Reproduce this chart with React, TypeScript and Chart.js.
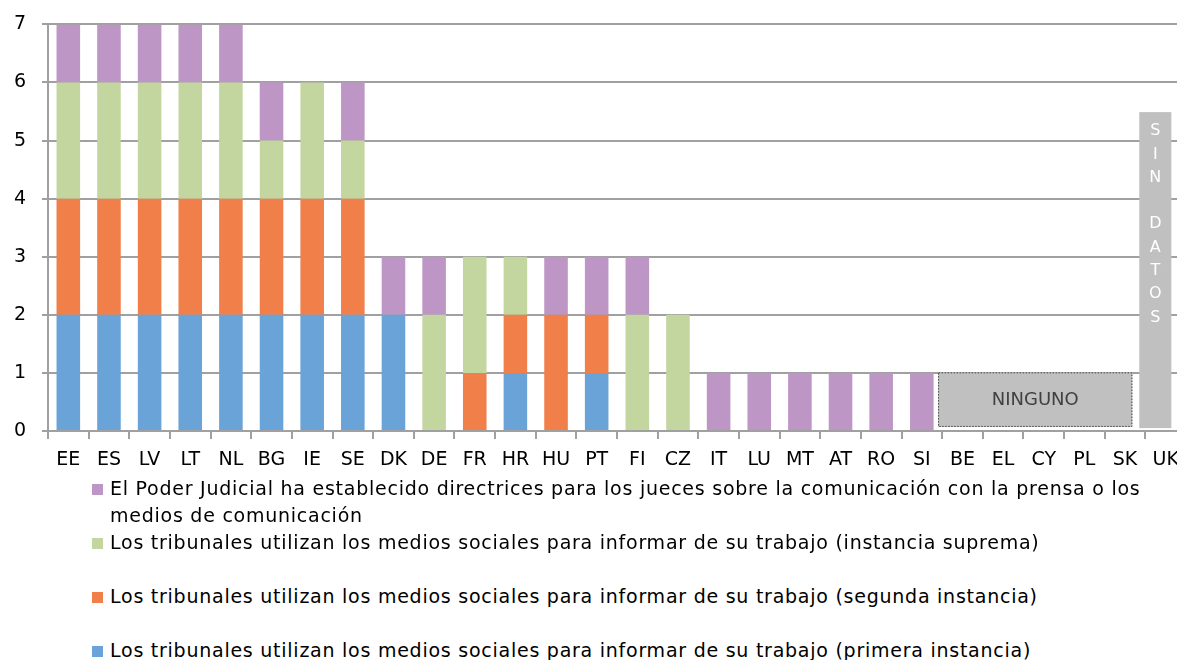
import React, { useEffect, useRef } from "react";
import { Chart, registerables } from "chart.js";

Chart.register(...registerables);

const categories = ["EE","ES","LV","LT","NL","BG","IE","SE","DK","DE","FR","HR","HU","PT","FI","CZ","IT","LU","MT","AT","RO","SI","BE","EL","CY","PL","SK","UK"];
const primeraInstancia = [2,2,2,2,2,2,2,2,2,0,0,1,0,1,0,0,0,0,0,0,0,0,0,0,0,0,0,0];
const segundaInstancia = [2,2,2,2,2,2,2,2,0,0,1,1,2,1,0,0,0,0,0,0,0,0,0,0,0,0,0,0];
const instanciaSuprema = [2,2,2,2,2,1,2,1,0,2,2,1,0,0,2,2,0,0,0,0,0,0,0,0,0,0,0,0];
const directrices = [1,1,1,1,1,1,0,1,1,1,0,0,1,1,1,0,1,1,1,1,1,1,0,0,0,0,0,0];
const yTicks = [0,1,2,3,4,5,6,7];

const labelsLegend = [
  "El Poder Judicial ha establecido directrices para los jueces sobre la comunicación con la prensa o los medios de comunicación",
  "Los tribunales utilizan los medios sociales para informar de su trabajo (instancia suprema)",
  "Los tribunales utilizan los medios sociales para informar de su trabajo (segunda instancia)",
  "Los tribunales utilizan los medios sociales para informar de su trabajo (primera instancia)",
];
const colorsLegend = ["#bd96c6", "#c3d6a0", "#f07f4a", "#6aa3d8"];

const FONT = "'DejaVu Sans', sans-serif";
const GRID = "#a0a0a0";

const boxesPlugin = {
  id: "boxes",
  afterDatasetsDraw(chart: any) {
    const { ctx } = chart;
    const x = chart.scales.x;
    const y = chart.scales.y;
    const step = x.getPixelForValue(1) - x.getPixelForValue(0);
    const px = (v: number) => x.getPixelForValue(0) + v * step;
    ctx.save();
    // NINGUNO
    const l = px(21.4), r = px(26.18), t = y.getPixelForValue(1.01), b = y.getPixelForValue(0.07);
    ctx.fillStyle = "#c0c0c0";
    ctx.fillRect(l, t, r - l, b - t);
    ctx.setLineDash([1.5, 1.5]);
    ctx.strokeStyle = "#444";
    ctx.lineWidth = 1;
    ctx.strokeRect(l + 0.5, t + 0.5, r - l - 1, b - t - 1);
    ctx.setLineDash([]);
    ctx.fillStyle = "#404040";
    ctx.font = `18px ${FONT}`;
    ctx.textAlign = "center";
    ctx.textBaseline = "middle";
    ctx.fillText("NINGUNO", (l + r) / 2, (t + b) / 2 + 1);
    // SIN DATOS
    const l2 = px(26.35), r2 = px(27.14), t2 = y.getPixelForValue(5.49), b2 = y.getPixelForValue(0.05);
    ctx.fillStyle = "#c0c0c0";
    ctx.fillRect(l2, t2, r2 - l2, b2 - t2);
    ctx.fillStyle = "#ffffff";
    ctx.font = `16px ${FONT}`;
    const letters = ["S", "I", "N", "", "D", "A", "T", "O", "S"];
    letters.forEach((ch, i) => {
      ctx.fillText(ch, (l2 + r2) / 2, t2 + 19 + i * 23.3);
    });
    ctx.restore();
  },
};

export default function App() {
  const ref = useRef<HTMLCanvasElement>(null);
  useEffect(() => {
    document.body.style.margin = "0";
    document.body.style.overflow = "hidden";
    const chart = new Chart(ref.current!, {
      type: "bar",
      data: {
        labels: categories,
        datasets: [
          { label: labelsLegend[3], data: primeraInstancia, backgroundColor: colorsLegend[3] },
          { label: labelsLegend[2], data: segundaInstancia, backgroundColor: colorsLegend[2] },
          { label: labelsLegend[1], data: instanciaSuprema, backgroundColor: colorsLegend[1] },
          { label: labelsLegend[0], data: directrices, backgroundColor: colorsLegend[0] },
        ],
      },
      options: {
        animation: false,
        responsive: false,
        maintainAspectRatio: false,
        layout: { padding: { top: 12, right: 4, left: 0, bottom: 0 } },
        plugins: { legend: { display: false }, tooltip: { enabled: false } },
        datasets: { bar: { barPercentage: 0.58, categoryPercentage: 1 } },
        scales: {
          x: {
            stacked: true,
            grid: { display: true, drawOnChartArea: false, drawTicks: true, tickLength: 8, color: GRID, lineWidth: 2, offset: true },
            border: { display: true, color: GRID, width: 2 },
            ticks: { color: "#000", font: { family: FONT, size: 19 }, padding: 10, autoSkip: false, maxRotation: 0 },
            afterFit: (s: any) => { s.height = 49; },
          },
          y: {
            stacked: true,
            min: 0,
            max: 7,
            afterBuildTicks: (s: any) => { s.ticks = yTicks.map((v) => ({ value: v })); },
            grid: { color: GRID, lineWidth: 2, tickLength: 6 },
            border: { display: true, color: GRID, width: 2 },
            ticks: { color: "#000", font: { family: FONT, size: 19 }, padding: 16 },
            afterFit: (s: any) => { s.width = 48; },
          },
        },
      },
      plugins: [boxesPlugin],
    });
    return () => chart.destroy();
  }, []);

  return (
    <div style={{ position: "fixed", left: 0, top: 0, width: 1177, height: 660, overflow: "hidden", background: "#fff" }}>
      <canvas ref={ref} width={1190} height={483} style={{ position: "absolute", left: 0, top: -3, width: 1190, height: 483 }} />
      {labelsLegend.map((txt, i) => (
        <div key={i} style={{ position: "absolute", left: 92, top: [475, 529, 583, 637][i], width: 1060, fontFamily: FONT, fontSize: 19, letterSpacing: "0.75px", lineHeight: "27px", color: "#000", display: "flex" }}>
          <span style={{ width: 11, height: 11, background: colorsLegend[i], flex: "0 0 auto", marginTop: 9, marginRight: 7 }} />
          <span>{txt}</span>
        </div>
      ))}
    </div>
  );
}
